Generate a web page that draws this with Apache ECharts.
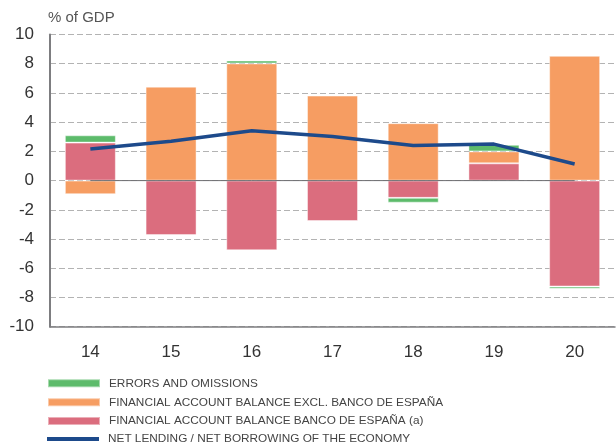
<!DOCTYPE html>
<html>
<head>
<meta charset="utf-8">
<script src="https://cdn.jsdelivr.net/npm/echarts@6/dist/echarts.min.js"></script>
<style>
  html, body { margin: 0; padding: 0; background: #fff; }
  #chart { width: 616px; height: 445px; }
</style>
</head>
<body>
<div id="chart"></div>
<script>
// Balance of payments components, % of GDP
const years = ['14', '15', '16', '17', '18', '19', '20'];
const bancoEspana = [2.6, -3.73, -4.77, -2.77, -1.18, 1.18, -7.25];
const finExclBde = [-0.93, 6.43, 8.02, 5.82, 3.93, 0.82, 8.54];
const errorsOmissions = [0.5, 0.05, 0.2, -0.05, -0.33, 0.45, -0.15];
const netLending = [2.16, 2.7, 3.41, 3.02, 2.41, 2.5, 1.14];
const zeroLine = [0, 0, 0, 0, 0, 0, 0];

const NAME_EO = 'ERRORS AND OMISSIONS';
const NAME_EXCL = 'FINANCIAL ACCOUNT BALANCE EXCL. BANCO DE ESPAÑA';
const NAME_BDE = 'FINANCIAL ACCOUNT BALANCE BANCO DE ESPAÑA (a)';
const NAME_NL = 'NET LENDING / NET BORROWING OF THE ECONOMY';

const colors = {
  green: '#5dbb6b',
  orange: '#f69d62',
  red: '#db6d7e',
  navy: '#1d4a8b',
  axis: '#7d7d80',
  grid: '#b3b3b3',
  text: '#333333',
};

const baseFont = '"Liberation Sans", Arial, sans-serif';

const chart = echarts.init(document.getElementById('chart'), null, { renderer: 'canvas' });

// one legend block per row so rows sit exactly where the original has them
function legendRow(name, top, h) {
  return {
    data: [{ name: name, icon: 'rect' }],
    left: 47, top: top,
    padding: 0,
    itemWidth: 52, itemHeight: h,
    selectedMode: false,
    textStyle: { fontFamily: baseFont, fontSize: 11.8, color: '#444', lineHeight: 14, padding: [0, 0, 0, 4] },
  };
}

const barCommon = {
  type: 'bar',
  stack: 'total',
  barWidth: 51,
};
const barBorder = { borderColor: 'rgba(255,255,255,0.45)', borderWidth: 1 };

chart.setOption({
  animation: false,
  textStyle: { fontFamily: baseFont },
  graphic: [{
    type: 'text', left: 48, top: 10,
    style: { text: '% of GDP', fontSize: 15, fill: '#555', fontFamily: baseFont },
  }],
  grid: { left: 50, right: 1, top: 34.5, bottom: 118.3 },
  legend: [
    legendRow(NAME_EO, 376.3, 8),
    legendRow(NAME_EXCL, 395.3, 8),
    legendRow(NAME_BDE, 414, 8),
    Object.assign(legendRow(NAME_NL, 432, 4), { itemStyle: { color: colors.navy } }),
  ],
  xAxis: {
    type: 'category',
    data: years,
    axisLine: { onZero: false, lineStyle: { color: colors.axis, width: 1.5 } },
    axisTick: { inside: true, length: 5, lineStyle: { color: colors.axis } },
    axisLabel: { color: colors.text, fontSize: 17, margin: 17 },
  },
  yAxis: {
    type: 'value',
    min: -10, max: 10, interval: 2,
    axisLine: { show: true, lineStyle: { color: colors.axis, width: 2 } },
    axisTick: { show: false },
    axisLabel: { color: colors.text, fontSize: 17, margin: 16 },
    splitLine: { lineStyle: { color: colors.grid, type: [6, 3], width: 1 } },
  },
  series: [
    Object.assign({}, barCommon, {
      name: NAME_BDE,
      data: bancoEspana,
      itemStyle: Object.assign({ color: colors.red }, barBorder),
    }),
    Object.assign({}, barCommon, {
      name: NAME_EXCL,
      data: finExclBde,
      itemStyle: Object.assign({ color: colors.orange }, barBorder),
    }),
    Object.assign({}, barCommon, {
      name: NAME_EO,
      data: errorsOmissions,
      itemStyle: Object.assign({ color: colors.green }, barBorder),
    }),
    {
      name: 'zero',
      type: 'line',
      data: zeroLine,
      symbol: 'none',
      silent: true,
      lineStyle: { color: '#6f6f72', width: 1 },
      z: 3,
    },
    {
      name: NAME_NL,
      type: 'line',
      data: netLending,
      symbol: 'none',
      itemStyle: { color: colors.navy },
      lineStyle: { color: colors.navy, width: 3.5 },
      z: 4,
    },
  ],
});
</script>
</body>
</html>
